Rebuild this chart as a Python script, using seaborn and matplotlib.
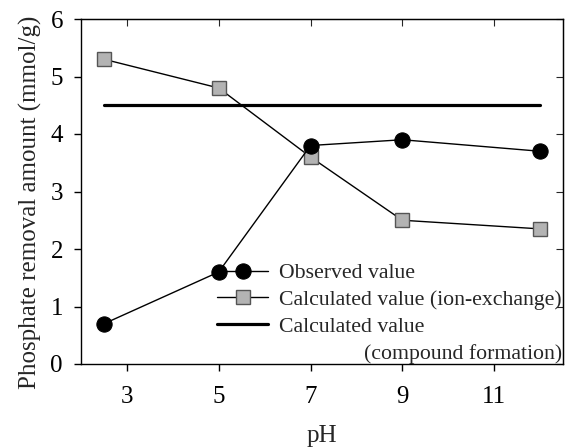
import matplotlib
matplotlib.use('Agg')
import matplotlib.pyplot as plt
import seaborn as sns
import pandas as pd

# values
ph = [2.5, 5, 7, 9, 12]
observed = [0.7, 1.6, 3.8, 3.9, 3.7]
ion_exchange = [5.3, 4.8, 3.6, 2.5, 2.35]
compound_x = [2.5, 12]
compound_y = [4.5, 4.5]
xticks = [3, 5, 7, 9, 11]
yticks = [0, 1, 2, 3, 4, 5, 6]

sns.set_style('ticks')
plt.rcParams['font.family'] = ['Liberation Serif', 'DejaVu Serif']

df_obs = pd.DataFrame({'pH': ph, 'value': observed})
df_ion = pd.DataFrame({'pH': ph, 'value': ion_exchange})
df_cmp = pd.DataFrame({'pH': compound_x, 'value': compound_y})

fig = plt.figure(figsize=(5.71, 4.47), dpi=100)
ax = fig.add_axes([81/571, 1-364/447, (563-81)/571, (364-19)/447])

sns.lineplot(data=df_cmp, x='pH', y='value', ax=ax, color='black', lw=2.3,
             label='Calculated value')
sns.lineplot(data=df_ion, x='pH', y='value', ax=ax, color='black', lw=1,
             marker='s', markersize=9.5, markerfacecolor='#b3b3b3',
             markeredgecolor='#555555', markeredgewidth=1,
             label='Calculated value (ion-exchange)')
sns.lineplot(data=df_obs, x='pH', y='value', ax=ax, color='black', lw=1,
             marker='o', markersize=11, markerfacecolor='black',
             markeredgecolor='black', label='Observed value')

ax.set_xlim(2, 12.5)
ax.set_ylim(0, 6)
ax.set_xticks(xticks)
ax.set_yticks(yticks)
ax.tick_params(direction='out', length=5, width=1, labelsize=18, colors='black')
ax.tick_params(axis='x', pad=11)
ax.tick_params(axis='y', pad=8)
for s in ax.spines.values():
    s.set_visible(True)
    s.set_color('black')
    s.set_linewidth(1)

# mirrored inward ticks on top and right
top = ax.secondary_xaxis('top')
top.set_xticks(xticks)
top.tick_params(direction='in', length=5, labeltop=False)
right = ax.secondary_yaxis('right')
right.set_yticks(yticks)
right.tick_params(direction='in', length=5, labelright=False)

ax.set_xlabel('pH', fontsize=18, labelpad=12)
ax.set_ylabel('Phosphate removal amount (mmol/g)', fontsize=18)
ax.yaxis.set_label_coords(-0.08, 0.47)

handles, labels = ax.get_legend_handles_labels()
order = [2, 1, 0]
leg = ax.legend([handles[i] for i in order], [labels[i] for i in order],
                loc='upper left', bbox_to_anchor=(217/571, 1-263/447),
                bbox_transform=fig.transFigure, frameon=False, fontsize=15.7,
                borderpad=0, borderaxespad=0, handlelength=2.35, handletextpad=0.5,
                labelspacing=0.3, numpoints=1)
ax.text(0.998, 0.0, '(compound formation)', transform=ax.transAxes,
        ha='right', va='bottom', fontsize=15.7)

fig.savefig('out.png', dpi=100)
